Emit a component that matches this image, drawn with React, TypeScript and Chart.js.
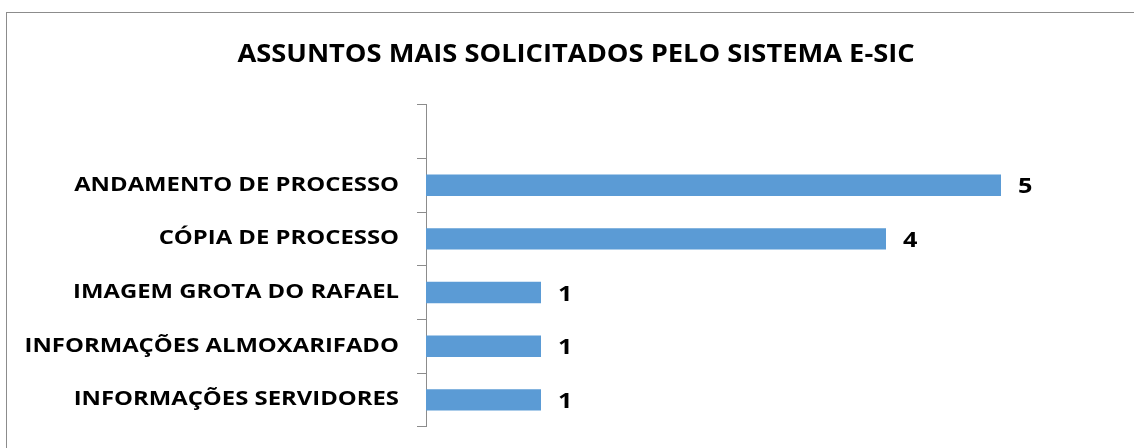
import React, { useEffect, useRef } from "react";
import { Chart, registerables } from "chart.js";

Chart.register(...registerables);

const TITLE = "ASSUNTOS MAIS SOLICITADOS PELO SISTEMA E-SIC";
const categories = [
  "",
  "ANDAMENTO DE PROCESSO",
  "CÓPIA DE PROCESSO",
  "IMAGEM GROTA DO RAFAEL",
  "INFORMAÇÕES ALMOXARIFADO",
  "INFORMAÇÕES SERVIDORES",
];
const values: (number | null)[] = [null, 5, 4, 1, 1, 1];

const FONT = "'Open Sans', Lato, sans-serif";

function stretchedText(
  ctx: CanvasRenderingContext2D,
  text: string,
  x: number,
  y: number,
  sx: number,
  align: CanvasTextAlign
) {
  ctx.save();
  ctx.translate(x, y);
  ctx.scale(sx, 1);
  ctx.textAlign = align;
  ctx.textBaseline = "alphabetic";
  ctx.fillText(text, 0, 0);
  ctx.restore();
}

const borderPlugin = {
  id: "outerBorder",
  beforeDraw(chart: any) {
    const ctx = chart.ctx;
    ctx.save();
    ctx.fillStyle = "#ffffff";
    ctx.fillRect(0, 0, chart.width, chart.height);
    ctx.strokeStyle = "#8c8c8c";
    ctx.lineWidth = 1;
    ctx.strokeRect(6.5, 12.5, 1300, 1000);
    ctx.fillStyle = "#000000";
    ctx.font = `bold 25.5px ${FONT}`;
    stretchedText(ctx, TITLE, 576, 62, 1.07, "center");
    ctx.restore();
  },
};

const labelsPlugin = {
  id: "textLabels",
  afterDatasetsDraw(chart: any) {
    const ctx = chart.ctx;
    const meta = chart.getDatasetMeta(0);
    const data = chart.data.datasets[0].data;
    const yScale = chart.scales.y;
    ctx.save();
    ctx.fillStyle = "#000000";
    // category labels
    ctx.font = `bold 19px ${FONT}`;
    chart.data.labels.forEach((lab: string, i: number) => {
      if (!lab) return;
      const y = yScale.getPixelForValue(i);
      stretchedText(ctx, lab, 399, y + 5.5, 1.255, "right");
    });
    // value labels
    ctx.font = `bold 21px ${FONT}`;
    meta.data.forEach((bar: any, i: number) => {
      const v = data[i];
      if (v === null || v === undefined) return;
      stretchedText(ctx, String(v), bar.x + 17, bar.y + 8, 1.2, "left");
    });
    ctx.restore();
  },
};

export default function App() {
  const ref = useRef<HTMLCanvasElement>(null);
  useEffect(() => {
    if (!ref.current) return;
    const chart = new Chart(ref.current, {
      type: "bar",
      data: {
        labels: categories,
        datasets: [
          {
            data: values,
            backgroundColor: "#5B9BD5",
            borderWidth: 0,
            categoryPercentage: 1,
            barPercentage: 0.4,
          },
        ],
      },
      options: {
        indexAxis: "y",
        animation: false,
        responsive: false,
        devicePixelRatio: 1,
        layout: { padding: { left: 18, right: 18, top: 104.7, bottom: 21.3 } },
        plugins: {
          legend: { display: false },
          tooltip: { enabled: false },
          title: { display: false, text: TITLE },
        },
        scales: {
          x: {
            display: false,
            min: 0,
            max: 6,
          },
          y: {
            afterFit(scale: any) {
              scale.width = 426 - 18;
            },
            grid: {
              offset: true,
              drawOnChartArea: false,
              drawTicks: true,
              tickLength: 9,
              color: "#8c8c8c",
            },
            border: { display: true, color: "#8c8c8c", width: 1 },
            ticks: { display: false },
          },
        },
      },
      plugins: [borderPlugin, labelsPlugin],
    });
    return () => chart.destroy();
  }, []);
  return (
    <div style={{ position: "fixed", left: 0, top: 0, width: 1134, height: 448, overflow: "hidden" }}>
      <canvas ref={ref} width={1134} height={448} />
    </div>
  );
}
